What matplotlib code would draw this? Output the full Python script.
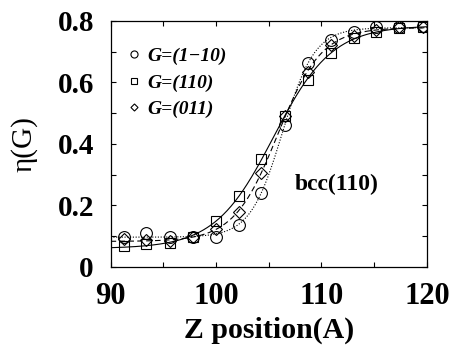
import numpy as np
import matplotlib
matplotlib.use("Agg")
import matplotlib.pyplot as plt
from matplotlib.ticker import MultipleLocator, FuncFormatter

plt.rcParams["font.family"] = ["Liberation Serif", "DejaVu Serif"]

# z positions of the layers
z = [91.3, 93.4, 95.6, 97.8, 100.0, 102.2, 104.3, 106.5, 108.7, 110.9, 113.1, 115.2, 117.4, 119.6]

# order parameter for the three reciprocal vectors
eta_1m10 = [0.097, 0.110, 0.099, 0.097, 0.097, 0.137, 0.242, 0.462, 0.664, 0.738, 0.765, 0.779, 0.781, 0.782]
eta_110 = [0.068, 0.074, 0.077, 0.097, 0.150, 0.231, 0.350, 0.492, 0.608, 0.695, 0.744, 0.765, 0.776, 0.780]
eta_011 = [0.090, 0.087, 0.083, 0.097, 0.122, 0.180, 0.307, 0.490, 0.635, 0.722, 0.751, 0.771, 0.779, 0.780]

labels = ["G=(1\u221210)", "G=(110)", "G=(011)"]
series = [eta_1m10, eta_110, eta_011]
markers = ["o", "s", "D"]
msizes = [8.5, 7.5, 6.0]
lstyles = [(0, (1, 1.5)), "-", (0, (5, 3))]


def fit_tanh(x, y):
    # least squares fit of y = a + b*tanh((x-c)/w) by grid over c, w
    x = np.asarray(x)
    y = np.asarray(y)
    best = None
    for c in np.arange(100, 112, 0.05):
        for w in np.arange(1.0, 8.0, 0.05):
            t = np.tanh((x - c) / w)
            A = np.column_stack([np.ones_like(t), t])
            coef = np.linalg.lstsq(A, y, rcond=None)[0]
            err = np.sum((A @ coef - y) ** 2)
            if best is None or err < best[0]:
                best = (err, coef[0], coef[1], c, w)
    return best[1:]


fig = plt.figure(figsize=(4.59, 3.49), dpi=100)
ax = fig.add_axes([0.241, 0.235, 0.689, 0.705])

xs = np.linspace(90, 120, 400)
handles = []
for y, lab, m, ms, ls in zip(series, labels, markers, msizes, lstyles):
    a, b, c, w = fit_tanh(z, y)
    ax.plot(xs, a + b * np.tanh((xs - c) / w), color="black", lw=0.8, linestyle=ls)
    h = ax.plot(z, y, linestyle="none", marker=m, ms=ms, mfc="none", mec="black",
                mew=0.8, label=lab)[0]
    handles.append(h)

ax.set_xlim(90, 120)
ax.set_ylim(0, 0.8)
ax.xaxis.set_major_locator(MultipleLocator(10))
ax.xaxis.set_minor_locator(MultipleLocator(5))
ax.yaxis.set_major_locator(MultipleLocator(0.2))
ax.yaxis.set_minor_locator(MultipleLocator(0.1))
ax.yaxis.set_major_formatter(FuncFormatter(lambda v, p: "0" if abs(v) < 1e-9 else "%.1f" % v))
ax.tick_params(which="both", direction="in", top=True, right=True, length=3.5, width=0.8)
ax.tick_params(axis="x", which="major", pad=11, labelsize=22)
ax.tick_params(axis="y", which="major", pad=12, labelsize=21)
for lab in ax.get_xticklabels() + ax.get_yticklabels():
    lab.set_fontweight("bold")
for s in ax.spines.values():
    s.set_linewidth(0.9)

ax.set_xlabel("Z position(A)", fontsize=21.5, fontweight="bold", labelpad=4)
ax.set_ylabel("\u03b7(G)", fontsize=21, labelpad=14)

ax.text(0.715, 0.335, "bcc(110)", transform=ax.transAxes, fontsize=17,
        fontweight="bold", ha="center", va="center")

leg = ax.legend(handles=handles, loc="upper left", bbox_to_anchor=(0.0, 0.955),
                frameon=False, markerscale=0.6, handlelength=0.8, handletextpad=0.3,
                labelspacing=0.45, borderaxespad=0.4,
                prop={"size": 14, "weight": "bold", "style": "italic"})

fig.savefig("out.png", dpi=100)
